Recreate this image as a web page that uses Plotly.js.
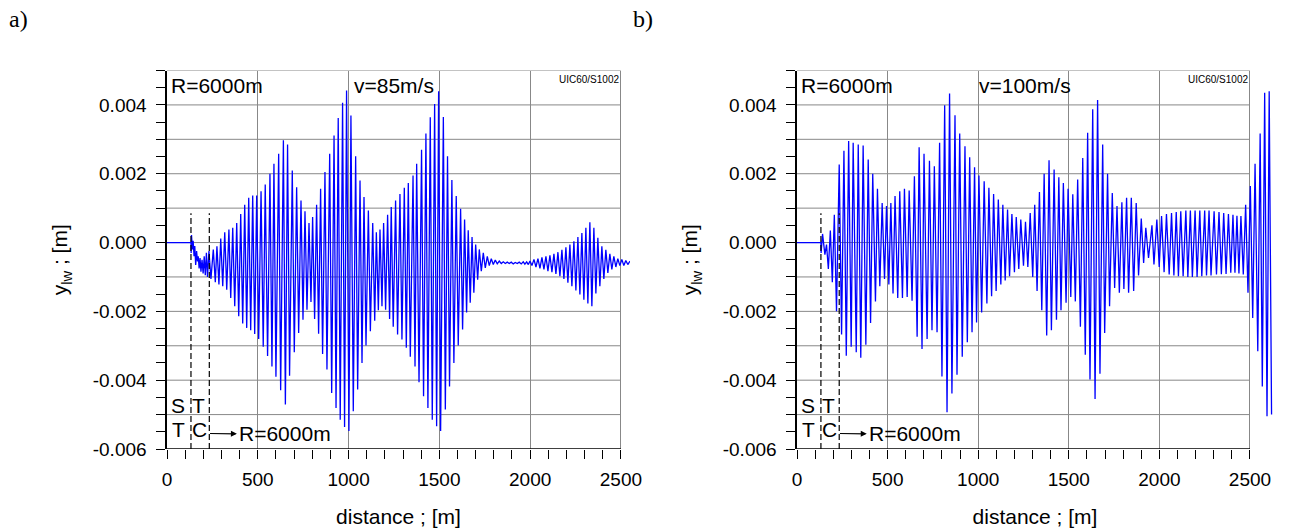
<!DOCTYPE html>
<html><head><meta charset="utf-8">
<script src="https://cdn.plot.ly/plotly-3.0.1.min.js"></script>
<style>html,body{margin:0;padding:0;background:#fff}#chart{width:1290px;height:532px}</style>
</head><body><div id="chart"></div>
<script>
// ---------- data (distance in m, lateral displacement in mm) ----------
const distA = [0,132,133,135,140,144,149,153,158,163,
168,172,177,182,187,193,199,205,211,217,
223,231,242,255,266,275,286,296,307,318,
329,341,351,362,373,384,395,406,417,428,
439,450,461,472,483,494,505,518,530,541,
554,567,578,589,600,615,626,641,652,664,
675,690,701,714,725,738,749,760,771,782,
793,802,813,824,835,846,857,870,881,896,
907,920,931,943,954,967,978,989,1002,1013,
1026,1039,1050,1063,1074,1085,1096,1109,1120,1133,
1144,1153,1164,1173,1184,1193,1204,1215,1226,1235,
1246,1259,1270,1283,1294,1307,1318,1329,1340,1355,
1366,1375,1388,1402,1413,1426,1437,1450,1461,1474,
1485,1496,1507,1522,1533,1545,1556,1569,1580,1593,
1604,1617,1628,1639,1650,1659,1670,1680,1690,1700,
1711,1720,1731,1742,1753,1764,1775,1786,1797,1808,
1819,1830,1841,1852,1863,1874,1885,1896,1907,1918,
1929,1940,1951,1962,1971,1981,1990,1999,2010,2021,
2032,2043,2054,2065,2076,2087,2098,2109,2120,2131,
2142,2153,2164,2175,2186,2197,2208,2219,2230,2241,
2252,2263,2274,2285,2296,2307,2318,2329,2340,2351,
2362,2373,2384,2395,2406,2417,2428,2439,2450,2461,
2472,2483,2494,2505,2516,2527,2538,2550];
const dispA_mm = [0,0,-0.30,0.22,-0.20,0.05,-0.40,-0.10,-0.65,-0.25,
-0.55,-0.40,-0.75,-0.45,-0.85,-0.50,-0.90,-0.40,-0.95,-0.30,
-1.00,-0.25,-1.06,-0.20,-1.15,-0.11,-1.22,0.12,-1.27,0.30,
-1.37,0.38,-1.61,0.43,-1.85,0.57,-2.14,0.83,-2.35,1.10,
-2.48,1.30,-2.55,1.37,-2.66,1.37,-2.80,1.49,-3.03,1.69,
-3.30,2.00,-3.60,2.29,-3.90,2.58,-4.29,2.97,-4.71,2.85,
-3.87,2.09,-3.19,1.61,-2.63,1.22,-2.24,0.91,-1.95,0.57,
-1.73,0.74,-2.22,1.10,-2.65,1.56,-3.24,2.05,-3.69,2.58,
-4.37,3.11,-4.81,3.62,-5.15,4.06,-5.36,4.42,-5.48,3.69,
-4.90,2.51,-4.27,1.80,-3.50,1.32,-2.99,0.93,-2.58,0.57,
-2.27,0.30,-1.97,0.38,-1.85,0.57,-1.95,0.81,-2.22,1.03,
-2.45,1.22,-2.67,1.41,-2.82,1.59,-3.06,1.73,-3.32,1.95,
-3.60,2.29,-4.06,2.70,-4.47,3.17,-4.81,3.64,-5.15,4.03,
-5.34,4.40,-5.48,3.65,-4.85,2.51,-4.18,1.82,-3.50,1.35,
-2.99,0.98,-2.53,0.67,-2.03,0.36,-1.75,0.16,-1.46,-0.06,
-1.08,-0.20,-0.83,-0.30,-0.74,-0.40,-0.67,-0.47,-0.64,-0.51,
-0.62,-0.54,-0.61,-0.56,-0.61,-0.57,-0.61,-0.57,-0.62,-0.58,
-0.61,-0.57,-0.62,-0.56,-0.63,-0.56,-0.64,-0.54,-0.67,-0.49,
-0.71,-0.47,-0.75,-0.43,-0.78,-0.40,-0.83,-0.37,-0.86,-0.33,
-0.91,-0.28,-0.98,-0.21,-1.06,-0.14,-1.17,-0.06,-1.27,0.04,
-1.39,0.16,-1.51,0.28,-1.66,0.43,-1.77,0.59,-1.85,0.43,
-1.48,0.14,-1.27,-0.11,-1.06,-0.21,-0.88,-0.33,-0.78,-0.40,
-0.71,-0.47,-0.67,-0.49,-0.67,-0.52,-0.64,-0.54];

const distB = [0,132,133,141,154,163,173,184,195,206,
218,233,246,259,272,285,299,310,327,338,
352,365,380,393,406,418,433,444,457,470,
483,494,507,518,530,541,556,567,582,593,
608,619,635,648,663,674,690,701,718,731,
745,758,773,787,800,815,828,842,855,872,
883,898,912,927,940,953,966,980,991,1004,
1019,1033,1048,1059,1074,1085,1099,1111,1125,1136,
1149,1162,1173,1186,1200,1210,1224,1235,1250,1261,
1274,1287,1301,1312,1325,1338,1351,1364,1378,1391,
1404,1419,1432,1445,1457,1470,1485,1496,1511,1522,
1536,1549,1564,1577,1591,1604,1617,1632,1645,1659,
1672,1687,1698,1714,1725,1740,1753,1766,1779,1793,
1804,1819,1830,1845,1858,1872,1885,1900,1913,1925,
1940,1959,1970,1986,1999,2012,2026,2039,2054,2067,
2080,2093,2105,2118,2131,2146,2157,2171,2182,2197,
2208,2223,2234,2250,2260,2274,2285,2302,2315,2329,
2342,2355,2368,2381,2394,2406,2417,2428,2439,2450,
2463,2476,2489,2502,2515,2528,2543,2556,2568,2581,
2594,2606,2619];
const dispB_mm = [0,0,-0.30,0.25,-0.35,-0.06,-0.77,0.35,-1.15,0.81,
-2.00,2.27,-2.67,2.67,-3.29,2.95,-3.03,2.90,-3.19,2.85,
-3.35,2.82,-2.97,2.41,-2.34,2.00,-1.71,1.56,-1.27,1.15,
-1.06,1.06,-1.22,1.15,-1.48,1.35,-1.61,1.49,-1.61,1.56,
-1.58,1.51,-1.69,1.93,-2.74,2.77,-3.09,2.58,-2.80,2.38,
-2.55,2.22,-2.61,2.90,-3.89,3.99,-4.93,4.33,-4.39,3.70,
-3.84,3.17,-3.32,2.80,-2.90,2.48,-2.61,2.19,-2.32,1.95,
-2.03,1.78,-1.77,1.59,-1.56,1.41,-1.41,1.25,-1.22,1.10,
-1.10,0.96,-0.98,0.83,-0.86,0.74,-0.77,0.67,-0.67,0.60,
-0.71,0.86,-1.00,1.10,-1.41,1.47,-1.97,2.00,-2.70,2.39,
-2.55,2.12,-2.24,1.90,-1.97,1.73,-1.75,1.56,-1.58,1.40,
-1.71,1.83,-2.45,2.46,-3.26,3.19,-3.98,3.87,-4.55,4.14,
-3.81,2.85,-2.63,2.00,-1.85,1.44,-1.32,1.06,-1.46,1.17,
-1.35,1.30,-1.46,1.30,-1.41,1.15,-0.96,0.70,-0.59,0.43,
-0.45,0.50,-0.64,0.67,-0.71,0.77,-0.86,0.83,-0.93,0.86,
-0.96,0.89,-0.98,0.91,-0.98,0.93,-1.00,0.93,-1.00,0.93,
-1.00,0.93,-0.98,0.93,-0.96,0.93,-0.96,0.91,-0.93,0.89,
-0.92,0.86,-0.91,0.83,-0.88,0.81,-0.88,0.78,-0.90,0.77,
-0.93,1.10,-1.46,1.64,-2.19,2.29,-3.16,3.17,-4.18,4.35,
-5.05,4.40,-5.00];

const xTickVals = [0,500,1000,1500,2000,2500];
const xTickText = ['0','500','1000','1500','2000','2500'];
const xMinorTicks = [100,200,300,400,600,700,800,900,1100,1200,1300,1400,1600,1700,1800,1900,2100,2200,2300,2400];
const yTickVals = [-0.006,-0.004,-0.002,0,0.002,0.004];
const yTickText = ['-0.006','-0.004','-0.002','0.000','0.002','0.004'];
const yMinorTicks = [-0.0055,-0.005,-0.0045,-0.0035,-0.003,-0.0025,-0.0015,-0.001,-0.0005,0.0005,0.001,0.0015,0.0025,0.003,0.0035,0.0045,0.005];
const yGridVals = [-0.005,-0.004,-0.003,-0.002,-0.001,0,0.001,0.002,0.003,0.004,0.005];
const sectionBounds = [132, 233];
const panelLabels = ['a)', 'b)'];
const speedLabels = ['v=85m/s', 'v=100m/s'];
const radiusLabel = 'R=6000m';
const railLabel = 'UIC60/S1002';

// ---------- styling / layout ----------
const W = 1290, H = 532;
const FONT = 'Liberation Sans, Arial, Helvetica, sans-serif';
const SERIF = 'Liberation Serif, Times New Roman, serif';
const GRID = '#888888';
const yDom = [1 - 449 / H, 1 - 70.5 / H];
const panels = [
  {xr:'x', yr:'y', xa:'xaxis', ya:'yaxis', dist:distA, disp:dispA_mm, px:[167, 630], xmax:2550, labelPx:7, speedX:1250},
  {xr:'x2', yr:'y2', xa:'xaxis2', ya:'yaxis2', dist:distB, disp:dispB_mm, px:[797, 1273], xmax:2627, labelPx:631, speedX:1258}
];

const data = [];
const layout = {
  width: W, height: H, margin:{l:0, r:0, t:0, b:0},
  paper_bgcolor:'#fff', plot_bgcolor:'#fff', showlegend:false,
  shapes: [], annotations: []
};

panels.forEach((p, i) => {
  data.push({
    type:'scatter', mode:'lines', x:p.dist, y:p.disp.map(v => v / 1000),
    xaxis:p.xr, yaxis:p.yr, line:{color:'#0000ff', width:1.3}, hoverinfo:'skip'
  });
  const tf = {family:FONT, size:19, color:'#000'};
  layout[p.xa] = {
    domain:[p.px[0] / W, p.px[1] / W], range:[0, p.xmax], anchor:p.yr,
    tickmode:'array', tickvals:xTickVals, ticktext:xTickText,
    ticks:'outside', ticklen:9, tickwidth:1, tickcolor:'#000', ticklabelstandoff:4,
    showline:false, showgrid:true, gridcolor:GRID, gridwidth:1, zeroline:false,
    tickfont:tf,
    minor:{tickmode:'array', tickvals:xMinorTicks, ticks:'outside', ticklen:9, tickwidth:1, tickcolor:'#000', showgrid:false},
    title:{text:'distance ; [m]', font:{family:FONT, size:21, color:'#000'}, standoff:20},
    fixedrange:true
  };
  layout[p.ya] = {
    domain:yDom, range:[-0.006, 0.005], anchor:p.xr,
    tickmode:'array', tickvals:yTickVals, ticktext:yTickText,
    ticks:'outside', ticklen:9, tickwidth:1, tickcolor:'#000', ticklabelstandoff:6,
    showline:true, linecolor:'#000', linewidth:1.6, showgrid:false, zeroline:false,
    tickfont:tf,
    minor:{tickmode:'array', tickvals:yMinorTicks, ticks:'outside', ticklen:9, tickwidth:1, tickcolor:'#000', showgrid:false},
    title:{text:'y<sub>lw</sub> ; [m]', font:{family:FONT, size:21, color:'#000'}, standoff:19},
    fixedrange:true
  };
  // horizontal grid lines (only up to 2500 m)
  yGridVals.forEach(v => layout.shapes.push({type:'line', xref:p.xr, yref:p.yr, x0:0, x1:2500, y0:v, y1:v,
    line:{color:GRID, width:1}, layer:'below'}));
  // bottom axis line
  layout.shapes.push({type:'line', xref:p.xr, yref:p.yr, x0:0, x1:2500, y0:-0.006, y1:-0.006,
    line:{color:'#000', width:1.6}, layer:'above'});
  // section boundaries
  sectionBounds.forEach(b => layout.shapes.push({type:'line', xref:p.xr, yref:p.yr, x0:b, x1:b, y0:-0.006, y1:0.00085,
    line:{color:'#000', width:1.2, dash:'6px,3px'}, layer:'above'}));

  const A = (o) => layout.annotations.push(Object.assign({xref:p.xr, yref:p.yr, showarrow:false,
    font:{family:FONT, size:21, color:'#000'}}, o));
  A({text:radiusLabel, x:12, y:0.00456, xanchor:'left', yanchor:'middle'});
  A({text:speedLabels[i], x:p.speedX, y:0.00456, xanchor:'center', yanchor:'middle'});
  A({text:railLabel, x:2500, y:0.00474, xanchor:'right', yanchor:'middle', font:{family:FONT, size:10, color:'#000'}});
  A({text:'S', x:63, y:-0.00475, xanchor:'center', yanchor:'middle'});
  A({text:'T', x:63, y:-0.00544, xanchor:'center', yanchor:'middle'});
  A({text:'T', x:172, y:-0.00475, xanchor:'center', yanchor:'middle'});
  A({text:'C', x:181, y:-0.00544, xanchor:'center', yanchor:'middle'});
  // "→R=6000m": text with an arrow whose head sits next to the text
  layout.annotations.push({xref:p.xr, yref:p.yr, axref:p.xr, ayref:p.yr,
    x:237, y:-0.00555, ax:385, ay:-0.00556, xanchor:'left', yanchor:'middle',
    text:radiusLabel, font:{family:FONT, size:21, color:'#000'},
    showarrow:true, arrowside:'start', startarrowhead:2, startarrowsize:1, arrowwidth:1.2, arrowcolor:'#000',
    startstandoff:0, standoff:0});
  layout.annotations.push({xref:'paper', yref:'paper', x:p.labelPx / W, y:1 - 19 / H, xanchor:'left', yanchor:'middle',
    text:panelLabels[i], showarrow:false, font:{family:SERIF, size:24, color:'#000'}});
});

Plotly.newPlot('chart', data, layout, {displayModeBar:false, staticPlot:true});
</script></body></html>
